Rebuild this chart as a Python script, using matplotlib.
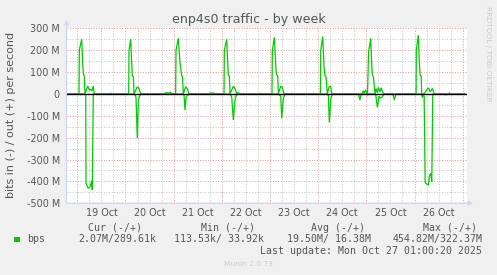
import matplotlib
matplotlib.use("Agg")
import matplotlib.pyplot as plt
from matplotlib.patches import Rectangle
import numpy as np

# ---------------- data (hours since 19 Oct 00:00, values in Mbit/s) ----------------
out_hours = [-5.5, 0.85, 1.0, 2.19, 2.69, 2.99, 3.49, 3.84, 5.18, 5.98, 6.83, 7.33, 7.97, 8.47,
             16.0, 16.5, 17.0,
             25.6, 25.76, 26.61, 27.11, 27.41, 27.9, 28.25, 29.9, 30.75, 31.6,
             43.5, 44.0, 45.5, 46.5, 47.0,
             49.0, 49.18, 50.33, 51.18, 52.03, 52.4, 52.82, 54.0, 55.0, 55.66,
             65.5, 66.0, 68.0, 68.5,
             73.1, 73.25, 74.45, 74.95, 75.24, 75.74, 76.09, 77.73, 78.58, 79.43, 80.23, 80.7,
             90.5, 91.0, 91.5,
             97.0, 97.17, 98.17, 99.01, 99.36, 99.86, 100.16, 101.35, 102.15, 103.0,
             106.3, 106.8, 107.3, 117.1, 117.6, 118.1,
             121.1, 121.29, 122.28, 122.93, 123.43, 123.93, 124.58, 125.42, 126.27, 126.77,
             141.9, 142.5, 143.0, 143.7, 144.2, 144.6,
             145.1, 146.2, 146.7, 147.0, 147.5, 148.35, 148.85, 149.5, 150.0, 150.85, 151.35,
             152.2, 152.85,
             168.8, 168.9, 169.9, 170.4, 170.8, 171.3, 171.6, 172.8, 174.1, 174.9, 175.8,
             176.9, 177.9,
             184.9, 185.4, 185.9, 193.0]
out_mbps = [0, 0, 200, 250, 140, 95, 80, 0, 36, 18, 20, 14, 36, 0,
            0, 4, 0,
            0, 200, 250, 140, 82, 80, 0, 33, 25, 0,
            0, 6, 4, 8, 0,
            0, 200, 254, 140, 82, 80, 0, 33, 20, 0,
            0, 4, 4, 0,
            0, 200, 250, 140, 86, 82, 0, 35, 25, 0, 7, 0,
            0, 3, 0,
            0, 200, 259, 109, 86, 82, 0, 35, 30, 0,
            0, 3, 0, 0, 3, 0,
            0, 200, 262, 124, 82, 78, 0, 33, 35, 0,
            0, 15, 5, 18, 3, 0,
            190, 254, 130, 86, 79, 0, 25, 5, 30, 10, 28,
            8, 0,
            0, 200, 269, 140, 86, 82, 0, 0, 18, 28, 10,
            25, 0,
            0, 5, 0, 0]

in_hours = [-5.5, 4.19, 4.34, 5.48, 6.33, 7.18, 7.47, 7.97,
            28.25, 28.75, 29.25, 29.9, 30.4, 31.24, 31.74,
            52.82, 53.17, 53.67, 54.17, 55.0, 56.16,
            76.09, 76.94, 77.73, 78.58, 79.43,
            100.16, 100.5, 101.35, 101.85, 102.65, 103.5,
            124.58, 125.08, 125.57, 126.27, 127.07,
            140.0, 140.88, 141.4, 144.2, 144.5, 144.9,
            148.35, 148.7, 149.5, 150.35, 150.85, 151.85, 152.85,
            157.2, 158.0, 158.7,
            171.6, 171.9, 172.1, 172.8, 173.3, 173.6, 174.9, 175.4, 176.1, 176.6, 177.1,
            183.2, 183.7, 184.2, 193.0]
in_mbps = [0, 0, 409, 432, 424, 397, 439, 0,
           0, 5, 15, 203, 30, 5, 0,
           0, 5, 74, 15, 5, 0,
           0, 15, 119, 25, 0,
           0, 3, 10, 112, 20, 0,
           0, 5, 131, 25, 0,
           0, 28, 0, 0, 5, 0,
           0, 5, 61, 10, 20, 15, 0,
           0, 28, 0,
           0, 16, 8, 10, 401, 409, 417, 375, 363, 401, 0,
           0, 5, 0, 0]

day_labels = ["19 Oct", "20 Oct", "21 Oct", "22 Oct", "23 Oct", "24 Oct", "25 Oct", "26 Oct"]
y_values = [300, 200, 100, 0, -100, -200, -300, -400, -500]
y_labels = ["300 M", "200 M", "100 M", "0", "-100 M", "-200 M", "-300 M", "-400 M", "-500 M"]

legend_headers = ["Cur (-/+)", "Min (-/+)", "Avg (-/+)", "Max (-/+)"]
legend_values = ["2.07M/289.61k", "113.53k/ 33.92k", "19.50M/ 16.38M", "454.82M/322.37M"]
series_name = "bps"
title = "enp4s0 traffic - by week"
ylabel = "bits in (-) / out (+) per second"
last_update = "Last update: Mon Oct 27 01:00:20 2025"

# ---------------- figure ----------------
W, H = 497, 275
BG = "#F0F0F0"
FONT = "#555555"
GREEN = "#00CC00"
AXISC = "#CFD6F8"
MINOR = "#C6C6C6"
MAJOR = "#E69A9A"

fig = plt.figure(figsize=(W / 100, H / 100), dpi=100, facecolor=BG)


def fx(x):
    return x / W


def fy(y):
    return 1 - y / H


L, R, T, B = 66.5, 467.5, 28.3, 203.3
ax = fig.add_axes([fx(L), fy(B), (R - L) / W, (B - T) / H], facecolor="white")
xmin, xmax = -5.38, 194.4
ax.set_xlim(xmin, xmax)
ax.set_ylim(-500, 300)
for s in ax.spines.values():
    s.set_visible(False)

# grid
dot = (0, (1, 1.6))
for h in np.arange(-0.0, 195, 6):
    if h < xmin or h > xmax:
        continue
    major = (h % 24 == 0)
    ax.axvline(h, color=MAJOR if major else MINOR, lw=0.72, ls=dot, zorder=1)
for h in np.arange(-6, 0, 6):
    if h >= xmin:
        ax.axvline(h, color=MINOR, lw=0.72, ls=dot, zorder=1)
for v in np.arange(-450, 301, 50):
    if v == 0:
        continue
    major = (v % 100 == 0)
    ax.axhline(v, color=MAJOR if major else MINOR, lw=0.72, ls=dot, zorder=1)

# series
ax.plot(out_hours, out_mbps, color=GREEN, lw=0.9, zorder=3, solid_joinstyle="miter")
ax.plot(in_hours, [-v for v in in_mbps], color=GREEN, lw=0.9, zorder=3, solid_joinstyle="miter")
ax.axhline(0, color="black", lw=1.0, zorder=4)

# ticks
ax.set_xticks([12 + 24 * i for i in range(len(day_labels))], day_labels)
ax.set_yticks(y_values, y_labels)
ax.tick_params(axis="both", length=0, labelsize=6.9, labelcolor=FONT)
ax.tick_params(axis="y", pad=4.7)
ax.tick_params(axis="x", pad=3.2)

# axis lines with arrows
ax.annotate("", xy=(0, 1.048), xytext=(0, 0), xycoords="axes fraction",
            arrowprops=dict(arrowstyle="-|>", color=AXISC, lw=1.0, mutation_scale=6,
                            shrinkA=0, shrinkB=0), annotation_clip=False)
ax.annotate("", xy=(1.014, 0), xytext=(0, 0), xycoords="axes fraction",
            arrowprops=dict(arrowstyle="-|>", color=AXISC, lw=1.0, mutation_scale=6,
                            shrinkA=0, shrinkB=0), annotation_clip=False)

# texts
fig.text(fx(248.5), fy(19.5), title, ha="center", va="center", fontsize=9.1, color=FONT)
fig.text(fx(10.8), fy(114.7), ylabel, ha="center", va="center", rotation=90,
         fontsize=8.0, color=FONT)
fig.text(fx(488), fy(53.5), "RRDTOOL / TOBI OETIKER", ha="center", va="center",
         rotation=270, fontsize=5.4, color="#CCCCCC")

mono = "DejaVu Sans Mono"
hdr_right = [142.3, 254.7, 365.0, 476.7]
val_right = [156.7, 263.7, 370.7, 482.7]
for t, xr in zip(legend_headers, hdr_right):
    fig.text(fx(xr), fy(227.7), t, ha="right", va="center", family=mono, fontsize=7.1, color=FONT)
for t, xr in zip(legend_values, val_right):
    fig.text(fx(xr), fy(239.3), t, ha="right", va="center", family=mono, fontsize=7.1, color=FONT)
fig.text(fx(26.7), fy(239.3), series_name, ha="left", va="center", family=mono, fontsize=7.1, color=FONT)
fig.patches.append(Rectangle((fx(14), fy(242)), 5.5 / W, 5.3 / H, transform=fig.transFigure,
                             facecolor=GREEN, edgecolor="none"))
fig.text(fx(482.3), fy(251), last_update, ha="right", va="center", family=mono, fontsize=7.1, color=FONT)
fig.text(fx(248), fy(264), "Munin 2.0.73", ha="center", va="center", fontsize=5.4, color="#CCCCCC")

fig.savefig("out.png", dpi=100, facecolor=BG)
